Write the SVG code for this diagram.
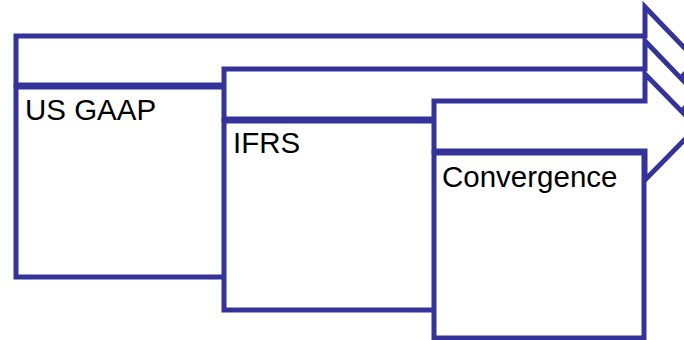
<svg xmlns="http://www.w3.org/2000/svg" width="684" height="340" viewBox="0 0 684 340">
<style>
.s{fill:#fff;stroke:#333399;stroke-width:5;stroke-linejoin:miter;stroke-miterlimit:10}
.t{font-family:"Liberation Sans",Arial,sans-serif;font-size:29.5px;fill:#000}
</style>
<rect width="684" height="340" fill="#fff"/>
<g id="us-gaap">
<polygon class="s" points="16,36 645,36 645,7 697,61 645,115 645,85 16,85"/>
<rect class="s" x="16" y="87" width="420" height="190"/>
<text class="t" x="25" y="120">US GAAP</text>
</g>
<g id="ifrs">
<polygon class="s" points="224,69 645,69 645,41 697,95 645,149 645,119 224,119"/>
<rect class="s" x="224" y="121" width="300" height="189"/>
<text class="t" x="233" y="153">IFRS</text>
</g>
<g id="convergence">
<polygon class="s" points="434,101 645,101 645,74 697,127 645,180 645,151 434,151"/>
<rect class="s" x="434" y="153" width="210" height="185"/>
<text class="t" x="442" y="187">Convergence</text>
</g>
<g id="connectors"/>
</svg>
